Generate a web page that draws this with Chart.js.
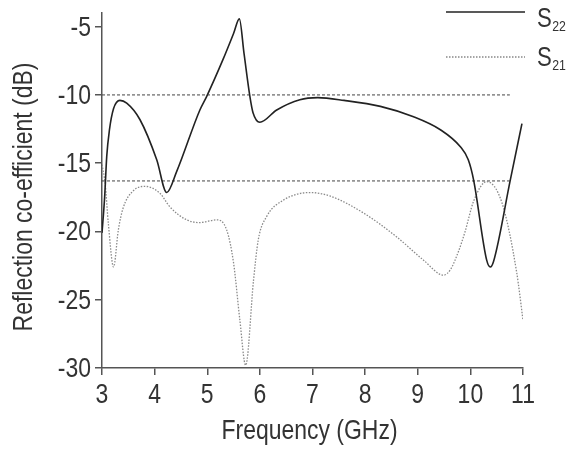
<!DOCTYPE html>
<html>
<head>
<meta charset="utf-8">
<script src="https://cdn.jsdelivr.net/npm/chart.js@4.4.1/dist/chart.umd.min.js"></script>
<style>
  html, body { margin: 0; padding: 0; background: #fff; }
  #wrap { width: 573px; height: 450px; position: relative; }
</style>
</head>
<body>
<div id="wrap"><canvas id="chartLine"></canvas></div>
<script>
// values
const s22Freq = [3.00, 3.05, 3.09, 3.14, 3.22, 3.34, 3.47, 3.72, 4.04, 4.23, 4.42, 4.86, 4.99, 5.30, 5.50, 5.61,
                 5.70, 5.81, 5.87, 6.00, 6.32, 6.76, 7.10, 7.60, 8.29, 8.92, 9.43, 9.81, 9.96, 10.06, 10.31,
                 10.38, 10.44, 10.76, 10.98];
const s22Vals = [-20.1, -17.5, -14.5, -12.6, -11.0, -10.4, -10.6, -11.8, -14.75, -17.15, -15.6, -11.1, -10.1, -7.4, -5.5, -4.43,
                 -7.0, -10.1, -11.3, -12.0, -11.1, -10.35, -10.2, -10.4, -10.84, -11.6, -12.55, -13.8, -14.75, -16.2, -22.1,
                 -22.6, -22.2, -16.2, -12.1];

const s21Freq = [3.00, 3.06, 3.12, 3.22, 3.31, 3.40, 3.60, 3.82, 4.10, 4.29, 4.61, 4.86, 5.18, 5.37, 5.50,
                 5.62, 5.73, 5.88, 5.97, 6.13, 6.45, 6.95, 7.33, 7.97, 8.60, 9.11, 9.49, 9.62, 9.78,
                 9.90, 10.06, 10.31, 10.60, 10.88, 11.00];
const s21Vals = [-15.1, -16.5, -19.4, -22.6, -19.9, -18.3, -17.0, -16.7, -17.2, -18.2, -19.15, -19.35, -19.15, -19.9, -22.3,
                 -26.5, -29.8, -23.55, -20.6, -18.9, -17.7, -17.15, -17.4, -18.65, -20.4, -22.1, -23.2, -22.8, -21.4,
                 -20.0, -17.8, -16.35, -17.9, -23.0, -26.5];

// dashed reference levels
const refLevels = [-10, -16.3];
const refRange = [3, 10.75];

const xTicks = [3, 4, 5, 6, 7, 8, 9, 10, 11];
const yTicks = [-30, -25, -20, -15, -10, -5];

const xTitle = 'Frequency (GHz)';
const yTitle = 'Reflection co-efficient (dB)';

const FONT = '"Liberation Sans", Arial, sans-serif';
const NARROW = 0.82; // squeeze glyphs to look like a condensed face
const TEXT = '#333';
const AXIS = '#555';

const toPoints = (xs, ys) => xs.map((x, i) => ({ x: x, y: ys[i] }));

const refSets = refLevels.map(v => ({
    label: 'ref ' + v,
    data: refRange.map(x => ({ x: x, y: v })),
    borderColor: '#444',
    borderWidth: 1,
    borderDash: [3, 2],
    pointRadius: 0,
    fill: false
}));

// draw condensed text
function narrowText(ctx, str, x, y, size, align, rot) {
    ctx.save();
    ctx.translate(x, y);
    if (rot) { ctx.rotate(rot); }
    ctx.scale(NARROW, 1);
    ctx.font = size + 'px ' + FONT;
    ctx.fillStyle = TEXT;
    ctx.textAlign = align;
    ctx.textBaseline = 'alphabetic';
    ctx.fillText(str, 0, 0);
    const w = ctx.measureText(str).width * NARROW;
    ctx.restore();
    return w;
}

// tick labels, axis titles, legend
const textPlugin = {
    id: 'narrowLabels',
    afterDraw: function(chart) {
        const ctx = chart.ctx;
        const xs = chart.scales.x;
        const ys = chart.scales.y;

        xTicks.forEach(v => {
            narrowText(ctx, String(v), xs.getPixelForValue(v), 403, 28, 'center');
        });
        yTicks.forEach(v => {
            narrowText(ctx, String(v), 91, ys.getPixelForValue(v) + 9, 28, 'right');
        });

        const cx = (chart.chartArea.left + chart.chartArea.right) / 2;
        narrowText(ctx, xTitle, cx - 3, 439, 28, 'center');
        narrowText(ctx, yTitle, 32, 197, 28, 'center', -Math.PI / 2);

        const items = [
            { sub: '22', y: 12, base: 27, color: '#222', width: 1.6, dash: [] },
            { sub: '21', y: 57, base: 66, color: '#888', width: 1.3, dash: [1.5, 1.5] }
        ];
        items.forEach(it => {
            ctx.save();
            ctx.beginPath();
            ctx.strokeStyle = it.color;
            ctx.lineWidth = it.width;
            ctx.setLineDash(it.dash);
            ctx.moveTo(446, it.y);
            ctx.lineTo(525, it.y);
            ctx.stroke();
            ctx.restore();
            const w = narrowText(ctx, 'S', 537, it.base, 27, 'left');
            narrowText(ctx, it.sub, 537 + w + 0.5, it.base + 4, 15, 'left');
        });
    }
};

const config = {
    type: 'line',
    data: {
        datasets: [
            {
                label: 'S22',
                data: toPoints(s22Freq, s22Vals),
                borderColor: '#222',
                borderWidth: 1.6,
                pointRadius: 0,
                cubicInterpolationMode: 'monotone',
                fill: false
            },
            {
                label: 'S21',
                data: toPoints(s21Freq, s21Vals),
                borderColor: '#8a8a8a',
                borderWidth: 1.3,
                borderDash: [1.5, 1.5],
                pointRadius: 0,
                cubicInterpolationMode: 'monotone',
                fill: false
            }
        ].concat(refSets)
    },
    options: {
        responsive: true,
        maintainAspectRatio: false,
        animation: false,
        layout: {
            padding: { top: 13, right: 50, bottom: 0, left: 0 }
        },
        scales: {
            x: {
                type: 'linear',
                min: 3,
                max: 11,
                afterBuildTicks: (scale) => { scale.ticks = xTicks.map(v => ({ value: v })); },
                afterFit: (scale) => { scale.height = 82; },
                border: { display: true, color: AXIS, width: 1.5 },
                grid: { drawOnChartArea: false, drawTicks: true, tickLength: 7, color: AXIS, lineWidth: 1.5 },
                ticks: { display: false }
            },
            y: {
                type: 'linear',
                min: -30,
                max: -4,
                afterBuildTicks: (scale) => { scale.ticks = yTicks.map(v => ({ value: v })); },
                afterFit: (scale) => { scale.width = 102; },
                border: { display: true, color: AXIS, width: 1.5 },
                grid: { drawOnChartArea: false, drawTicks: true, tickLength: 7, color: AXIS, lineWidth: 1.5 },
                ticks: { display: false }
            }
        },
        plugins: {
            legend: { display: false },
            tooltip: { enabled: false }
        }
    },
    plugins: [textPlugin]
};

new Chart(document.getElementById('chartLine'), config);
</script>
</body>
</html>
